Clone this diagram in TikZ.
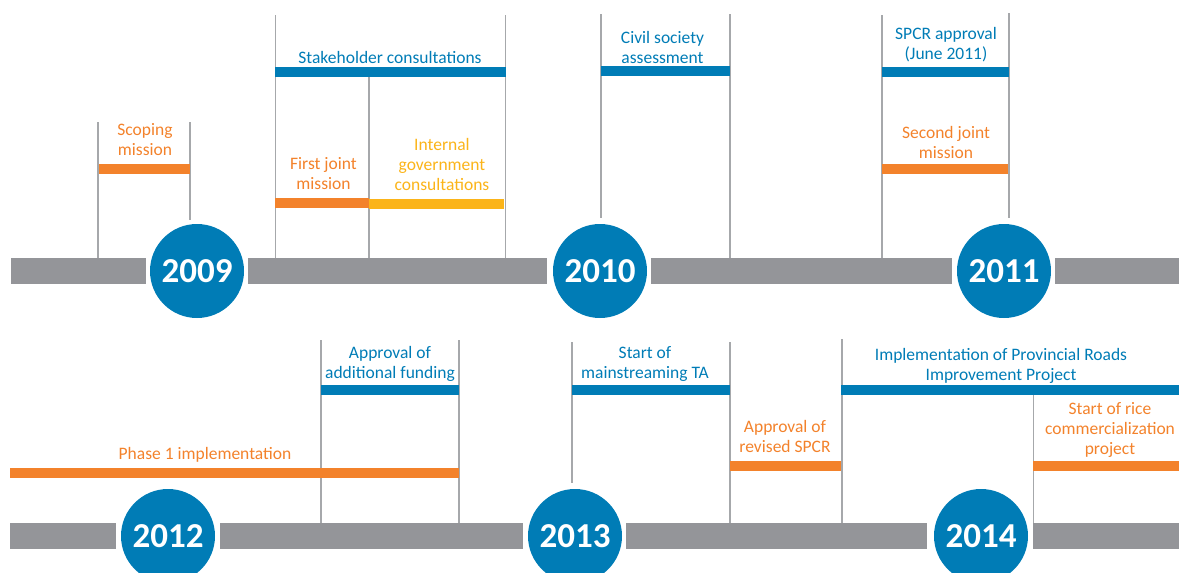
\documentclass[tikz,border=0pt]{standalone}
\usepackage{fontspec}
\setmainfont{Carlito}
\definecolor{cblue}{HTML}{007CB6}
\definecolor{corange}{HTML}{F3822B}
\definecolor{cyellow}{HTML}{FBB419}
\definecolor{cgray}{HTML}{949599}
\definecolor{cline}{HTML}{A6A8AB}
\tikzset{
  vline/.style={draw=cline, line width=1.3pt},
  lbl/.style={inner sep=0pt, align=center, font=\fontsize{17.5}{20}\selectfont},
  year/.style={circle, fill=cblue, minimum size=94pt, inner sep=0pt, text=white, font=\fontsize{35}{35}\selectfont\bfseries},
}
\begin{document}
\begin{tikzpicture}[x=1pt,y=-1pt]
\useasboundingbox (0,0) rectangle (1179,573);
% gray bars
\fill[cgray] (11,258) rectangle (146,284);
\fill[cgray] (248,258) rectangle (547,284);
\fill[cgray] (651,258) rectangle (952,284);
\fill[cgray] (1055,258) rectangle (1179,284);
\fill[cgray] (10,523) rectangle (116,549);
\fill[cgray] (220,523) rectangle (523,549);
\fill[cgray] (626,523) rectangle (927,549);
\fill[cgray] (1033,523) rectangle (1179,549);
% vertical lines
\draw[vline] (98,122) -- (98,258);
\draw[vline] (190,122) -- (190,220);
\draw[vline] (275.5,15) -- (275.5,258);
\draw[vline] (369,72) -- (369,258);
\draw[vline] (505.5,15) -- (505.5,258);
\draw[vline] (601,14) -- (601,218);
\draw[vline] (730,14) -- (730,258);
\draw[vline] (882,15) -- (882,258);
\draw[vline] (1009,13) -- (1009,218);
\draw[vline] (321,340) -- (321,523);
\draw[vline] (459,340) -- (459,523);
\draw[vline] (572,342) -- (572,483);
\draw[vline] (730,342) -- (730,523);
\draw[vline] (842,339) -- (842,523);
\draw[vline] (1033.5,395) -- (1033.5,523);
% colored bars
\fill[corange] (99,164) rectangle (190,174);
\fill[cblue] (275,67) rectangle (506,77);
\fill[corange] (275,198) rectangle (369,208);
\fill[cyellow] (369,199) rectangle (504,209);
\fill[cblue] (601,66) rectangle (730,76);
\fill[cblue] (882,67) rectangle (1009,77);
\fill[corange] (882,164) rectangle (1008,174);
\fill[cblue] (321,385) rectangle (459,395);
\fill[corange] (10,468) rectangle (459,478);
\fill[cblue] (572,385) rectangle (730,395);
\fill[corange] (730,461) rectangle (841,471);
\fill[cblue] (841,385) rectangle (1179,395);
\fill[corange] (1033,461) rectangle (1179,471);
% labels
\node[lbl, text=corange] (scoping) at (145,140) {Scoping\\mission};
\node[lbl, text=cblue] (stake) at (390,57) {Stakeholder consultations};
\node[lbl, text=corange] (first) at (323.5,174) {First joint\\mission};
\node[lbl, text=cyellow] (internal) at (442,164) {Internal\\government\\consultations};
\node[lbl, text=cblue] (civil) at (662.5,47.5) {Civil society\\assessment};
\node[lbl, text=cblue] (spcr) at (946,45) {SPCR approval\\(June 2011)};
\node[lbl, text=corange] (second) at (946,142.5) {Second joint\\mission};
\node[lbl, text=cblue] (addfund) at (390,364) {Approval of\\additional funding};
\node[lbl, text=corange] (phase) at (205,455) {Phase 1 implementation};
\node[lbl, text=cblue] (mainta) at (645,364) {Start of\\mainstreaming TA};
\node[lbl, text=corange] (revised) at (785,436) {Approval of\\revised SPCR};
\node[lbl, text=cblue] (roads) at (1001,366) {Implementation of Provincial Roads\\Improvement Project};
\node[lbl, text=corange] (rice) at (1110,430) {Start of rice\\commercialization\\project};
% year circles
\node[year] (y2009) at (197,271) {2009};
\node[year] (y2010) at (600,271) {2010};
\node[year] (y2011) at (1004,271) {2011};
\node[year] (y2012) at (168,536) {2012};
\node[year] (y2013) at (575,536) {2013};
\node[year] (y2014) at (981,536) {2014};
\end{tikzpicture}
\end{document}
